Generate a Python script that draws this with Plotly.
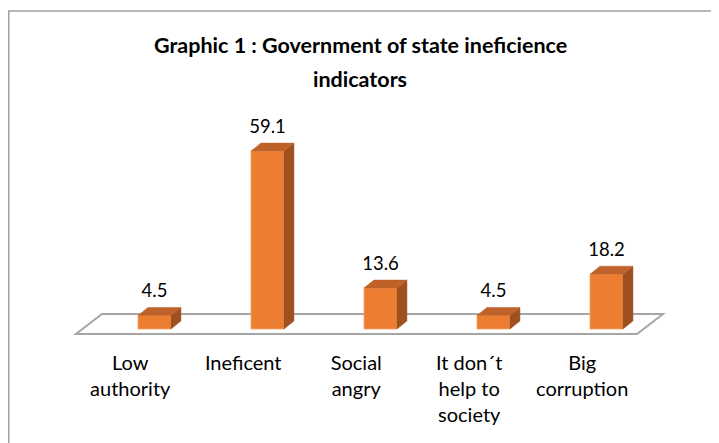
import plotly.graph_objects as go

# ---- data ----
categories = ["Low<br>authority", "Ineficent", "Social<br>angry",
              "It don´t<br>help to<br>society", "Big<br>corruption"]
values = [4.5, 59.1, 13.6, 4.5, 18.2]
value_labels = ["4.5", "59.1", "13.6", "4.5", "18.2"]
title_lines = ["Graphic 1 : Government of state ineficience", "indicators"]

# ---- look ----
FRONT = "#ED7D31"
TOP = "#BE622A"
SIDE = "#9E501E"
FLOOR_LINE = "#A6A6A6"
FONT = "Lato"

W, H = 719, 443
PAGE_OFFSET = 8           # the html body margin shifts the figure by this much

# target positions measured on the page, converted to figure pixels
PX_PER_CAT = 113.0        # horizontal pixels between bar centres
PX_PER_UNIT = 3.01        # vertical pixels per value unit
ZERO_PX_X = 154.5 - PAGE_OFFSET   # x of the first category
ZERO_PX_Y = 329.0 - PAGE_OFFSET   # y of value 0
BOTTOM_PX = 338.0 - PAGE_OFFSET   # bottom of the plotting area

BAR_W = 0.292             # bar width, in category units
DEPTH_X = 0.088           # 3-D depth offset, category units
DEPTH_Y = 2.66            # 3-D depth offset, value units
LABEL_LIFT = 7.6          # data label above the front top, value units
TICK_SHIFT = -0.215       # category labels sit left, on the floor front edge

positions = list(range(len(values)))

x_range = [-ZERO_PX_X / PX_PER_CAT, (W - ZERO_PX_X) / PX_PER_CAT]
y_range = [-(BOTTOM_PX - ZERO_PX_Y) / PX_PER_UNIT, ZERO_PX_Y / PX_PER_UNIT]


def paper_x(page_px):
    return (page_px - PAGE_OFFSET) / W


def paper_y(page_px):
    # plot area runs from figure row 0 to BOTTOM_PX
    return (BOTTOM_PX - (page_px - PAGE_OFFSET)) / BOTTOM_PX


fig = go.Figure()

# side and top faces of each bar, built from the values
side_x, side_y, top_x, top_y = [], [], [], []
for p, v in zip(positions, values):
    r = p + BAR_W / 2
    l = p - BAR_W / 2
    side_x += [r, r + DEPTH_X, r + DEPTH_X, r, r, None]
    side_y += [0, DEPTH_Y, v + DEPTH_Y, v, 0, None]
    top_x += [l, l + DEPTH_X, r + DEPTH_X, r, l, None]
    top_y += [v, v + DEPTH_Y, v + DEPTH_Y, v, v, None]

# front faces
fig.add_trace(go.Bar(
    x=positions, y=values, width=BAR_W,
    marker=dict(color=FRONT, line=dict(color="#F4A36C", width=0.8)),
    hoverinfo="skip",
))
fig.add_trace(go.Scatter(
    x=side_x, y=side_y, mode="lines", fill="toself", fillcolor=SIDE,
    line=dict(color=SIDE, width=0.5), hoverinfo="skip",
))
fig.add_trace(go.Scatter(
    x=top_x, y=top_y, mode="lines", fill="toself", fillcolor=TOP,
    line=dict(color=TOP, width=0.5), hoverinfo="skip",
))

# value labels
fig.add_trace(go.Scatter(
    x=positions, y=[v + LABEL_LIFT for v in values],
    mode="text", text=value_labels, textposition="middle center",
    textfont=dict(family=FONT, size=18.5, color="#000000"),
    hoverinfo="skip", cliponaxis=False,
))

# floor plate (parallelogram under the bars), kept below the traces
floor_front, floor_back = -1.66, 4.98
floor_pts = [(-0.695, floor_front), (4.27, floor_front),
             (4.5, floor_back), (-0.465, floor_back)]
floor_path = "M " + " L ".join(f"{x},{y}" for x, y in floor_pts) + " Z"

title_font = dict(family=FONT, size=21.5, color="#000000")

fig.update_layout(
    width=W, height=H,
    template="none",
    margin=dict(l=0, r=0, t=0, b=H - BOTTOM_PX, autoexpand=False),
    paper_bgcolor="white", plot_bgcolor="white",
    showlegend=False,
    barmode="overlay",
    xaxis=dict(
        range=x_range, showgrid=False, zeroline=False, showline=False,
        automargin=False,
        tickvals=[p + TICK_SHIFT for p in positions], ticktext=categories,
        ticks="outside", ticklen=7, tickcolor="rgba(0,0,0,0)",
        tickfont=dict(family=FONT, size=20, color="#000000"),
        fixedrange=True,
    ),
    yaxis=dict(
        range=y_range, showgrid=False, zeroline=False, showline=False,
        automargin=False, showticklabels=False, ticks="", fixedrange=True,
    ),
    annotations=[
        dict(text="<b>" + title_lines[0] + "</b>", xref="paper", yref="paper",
             x=paper_x(360), y=paper_y(45), xanchor="center", yanchor="middle",
             showarrow=False, font=title_font),
        dict(text="<b>" + title_lines[1] + "</b>", xref="paper", yref="paper",
             x=paper_x(360), y=paper_y(79), xanchor="center", yanchor="middle",
             showarrow=False, font=title_font),
    ],
    shapes=[
        dict(type="rect", xref="paper", yref="paper",
             x0=0.8 / W, x1=1.05, y0=-0.5, y1=paper_y(11),
             line=dict(color="#A0A0A0", width=1.5),
             fillcolor="rgba(0,0,0,0)", layer="below"),
        dict(type="path", xref="x", yref="y", path=floor_path,
             line=dict(color=FLOOR_LINE, width=2),
             fillcolor="white", layer="below"),
    ],
)

fig.write_html("out.html")
